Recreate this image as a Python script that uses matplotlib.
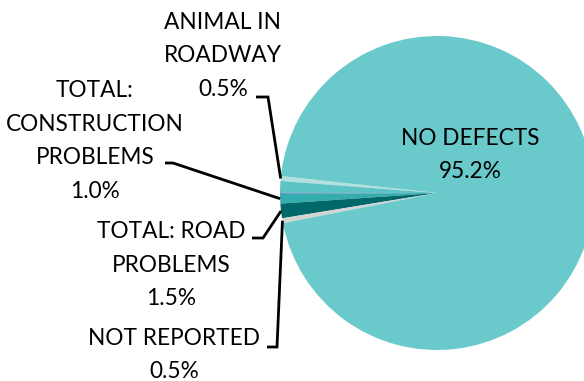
import numpy as np
import matplotlib
matplotlib.use("Agg")
import matplotlib.pyplot as plt

# Data (percent of crashes by road condition)
categories = ["ANIMAL IN\nROADWAY", "", "", "TOTAL:\nCONSTRUCTION\nPROBLEMS",
              "TOTAL: ROAD\nPROBLEMS", "NOT REPORTED", "NO DEFECTS"]
values = [0.5, 1.2, 0.1, 1.0, 1.5, 0.5, 95.2]
pct_labels = ["0.5%", "", "", "1.0%", "1.5%", "0.5%", "95.2%"]
colors = ["#b3dfdf", "#5ec3c4", "#5b6fc2", "#35adaf", "#006868", "#d3d3d3", "#6ac9ca"]

W, H = 584, 381
fig = plt.figure(figsize=(W / 100, H / 100), dpi=100)
ax = fig.add_axes([0, 0, 1, 1])

cx, cy, R = 437, H - 193, 157
wedges, _ = ax.pie(values, colors=colors, startangle=173.8, counterclock=True,
                   center=(cx, cy), radius=R, wedgeprops=dict(linewidth=0))
ax.set_xlim(0, W)
ax.set_ylim(0, H)
ax.set_aspect("auto")
ax.axis("off")

font = dict(family=["Lato", "DejaVu Sans"], fontsize=16.3, color="black",
            ha="center", va="center", linespacing=1.75)

def edge_point(w):
    t = np.deg2rad((w.theta1 + w.theta2) / 2)
    return cx + R * np.cos(t), cy + R * np.sin(t)

# label placements (text center, elbow start, elbow end) in pixel coords (y from top)
layout = {
    0: ((223, 56), (256, 97), (268, 97)),
    3: ((95, 141), (165, 163), (173, 163)),
    4: ((171, 265), (252, 238), (263, 238)),
    5: ((174, 355), (267, 347), (277, 347)),
}
for i, ((tx, ty), (ax1, ay1), (ax2, ay2)) in layout.items():
    ax.text(tx, H - ty, categories[i] + "\n" + pct_labels[i], **font)
    ex, ey = edge_point(wedges[i])
    ax.plot([ax1, ax2, ex], [H - ay1, H - ay2, ey], color="black", lw=2,
            solid_joinstyle="miter", solid_capstyle="butt")

ax.text(470, H - 155, categories[6] + "\n" + pct_labels[6], **font)

fig.savefig("out.png", dpi=100)
